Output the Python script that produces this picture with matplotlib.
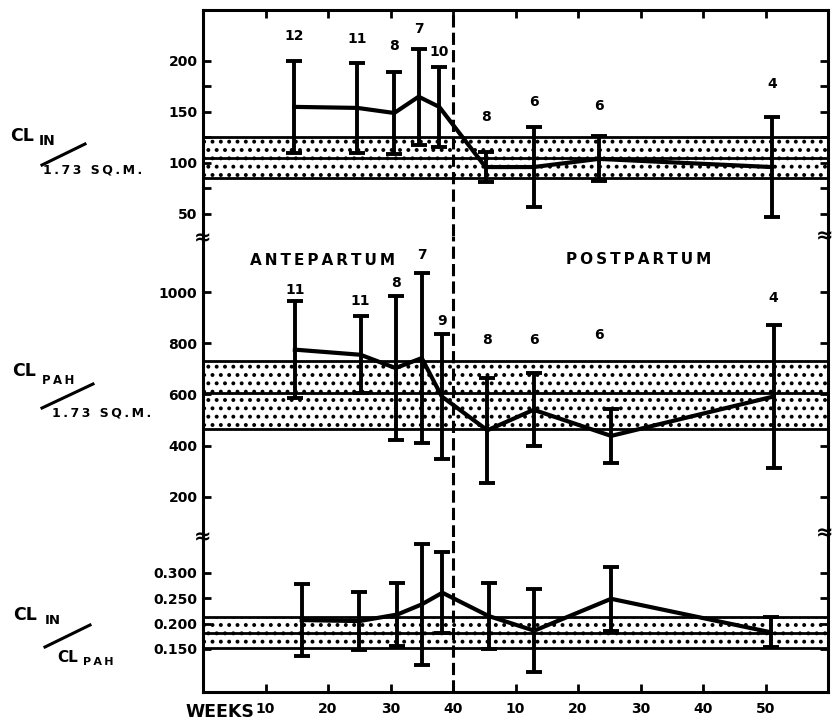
import matplotlib
matplotlib.use("Agg")
import matplotlib.pyplot as plt
from matplotlib.lines import Line2D

# weeks on one running scale: antepartum 0-40, postpartum week p -> 40 + p
weeks_in = [14.6, 24.7, 30.6, 34.5, 37.8, 45.2, 52.9, 63.3, 91.0]
weeks_pah = [14.7, 25.2, 30.8, 35.0, 38.2, 45.5, 52.9, 65.3, 91.3]
weeks_ratio = [15.8, 25.0, 31.1, 35.0, 38.3, 45.7, 53.0, 65.3, 90.8]

cl_in = [155, 154, 149, 165, 155, 96, 96, 104, 96]
cl_in_sd = [45, 44, 40, 47, 39, 15, 39, 22, 49]
n_in = ["12", "11", "8", "7", "10", "8", "6", "6", "4"]

cl_pah = [775, 755, 703, 742, 592, 460, 540, 438, 592]
cl_pah_sd = [190, 150, 280, 332, 245, 205, 143, 105, 281]
n_pah = ["11", "11", "8", "7", "9", "8", "6", "6", "4"]

ratio = [0.207, 0.205, 0.218, 0.238, 0.261, 0.215, 0.186, 0.249, 0.183]
ratio_sd = [0.071, 0.057, 0.062, 0.120, 0.080, 0.066, 0.082, 0.063, 0.030]

# normal range bands: low, middle line, high
band_in = [85, 105, 125]
band_pah = [465, 605, 730]
band_ratio = [0.152, 0.182, 0.214]

xticks = [10, 20, 30, 40, 50, 60, 70, 80, 90]
xlabels = ["10", "20", "30", "40", "10", "20", "30", "40", "50"]

# label offsets above the bar tops, in points
dy_in = [18, 17, 19, 14, 11, 25, 18, 22, 24]
dy_pah = [8, 11, 10, 13, 9, 27, 24, 53, 19]
dx_pah = [0, 0, 0, 0, 0, 0, 0, -9, 0]

plt.rcParams["font.family"] = ["DejaVu Sans"]
plt.rcParams["font.weight"] = "bold"
plt.rcParams["hatch.linewidth"] = 1.6

W, H = 835, 726
fig = plt.figure(figsize=(W / 100, H / 100), dpi=100)
gs = fig.add_gridspec(3, 1, height_ratios=[226, 301, 155], hspace=0,
                      left=203 / W, right=828 / W, top=1 - 10 / H, bottom=1 - 692 / H)
ax1 = fig.add_subplot(gs[0])
ax2 = fig.add_subplot(gs[1], sharex=ax1)
ax3 = fig.add_subplot(gs[2], sharex=ax1)


def fx(p):
    return p / W


def fy(p):
    return 1 - p / H


def spaced(s):
    return "\u2009".join(s)


def panel(ax, x, y, sd, band):
    lo, mid, hi = band
    ax.fill_between([0, 100], lo, hi, facecolor="white", edgecolor="black",
                    hatch="..", linewidth=0, zorder=1)
    for v in band:
        ax.axhline(v, color="black", lw=2.0, zorder=2)
    ax.axvline(40, color="black", lw=2.2, linestyle=(0, (4, 1.7)), zorder=3)
    ax.errorbar(x, y, yerr=sd, fmt="none", ecolor="black", elinewidth=2.8,
                capsize=5.5, capthick=2.8, zorder=4)
    ax.plot(x, y, color="black", lw=3, solid_joinstyle="miter", zorder=5)
    ax.set_xlim(0, 100)
    for s in ax.spines.values():
        s.set_linewidth(2.2)
    ax.tick_params(direction="in", length=5.5, width=2, labelsize=10,
                   left=True, right=True, labelright=False, top=False, bottom=False,
                   labelbottom=False, pad=4)


panel(ax1, weeks_in, cl_in, cl_in_sd, band_in)
panel(ax2, weeks_pah, cl_pah, cl_pah_sd, band_pah)
panel(ax3, weeks_ratio, ratio, ratio_sd, band_ratio)

ax1.set_ylim(28.4, 250)
ax1.set_yticks([50, 75, 100, 125, 150, 175, 200])
ax1.set_yticklabels(["50", "", "100", "", "150", "", "200"])
ax1.spines["bottom"].set_visible(False)
ax1.set_xticks(xticks)
ax1.tick_params(axis="x", top=True, labeltop=False)

ax2.set_ylim(43, 1219)
ax2.set_yticks([200, 400, 600, 800, 1000])
ax2.spines["top"].set_visible(False)
ax2.spines["bottom"].set_visible(False)

ax3.set_ylim(0.065, 0.371)
ax3.set_yticks([0.15, 0.20, 0.25, 0.30])
ax3.set_yticklabels(["0.150", "0.200", "0.250", "0.300"])
ax3.spines["top"].set_visible(False)
ax3.set_xticks(xticks)
ax3.set_xticklabels(xlabels)
ax3.tick_params(axis="x", bottom=True, labelbottom=True, pad=7, labelsize=10)

# counts above each bar
for xi, yi, si, n, dy in zip(weeks_in, cl_in, cl_in_sd, n_in, dy_in):
    ax1.annotate(n, (xi, yi + si), xytext=(0, dy), textcoords="offset points",
                 ha="center", va="center", fontsize=10)
for xi, yi, si, n, dy, dx in zip(weeks_pah, cl_pah, cl_pah_sd, n_pah, dy_pah, dx_pah):
    ax2.annotate(n, (xi, yi + si), xytext=(dx, dy), textcoords="offset points",
                 ha="center", va="center", fontsize=10)

fig.text(fx(250), fy(260), spaced("ANTEPARTUM"), fontsize=11, ha="left", va="center")
fig.text(fx(566), fy(259), spaced("POSTPARTUM"), fontsize=11, ha="left", va="center")
fig.text(fx(185), fy(712), "WEEKS", fontsize=12.5, ha="left", va="center")

# axis labels on the left
fig.text(fx(10), fy(136), "CL", fontsize=12.5, ha="left", va="center")
fig.text(fx(39), fy(141), "IN", fontsize=10, ha="left", va="center")
fig.add_artist(Line2D([fx(42), fx(85)], [fy(165), fy(144)], color="black", lw=2.2))
fig.text(fx(43), fy(170), spaced("1.73 SQ.M."), fontsize=9, ha="left", va="center")

fig.text(fx(12), fy(371), "CL", fontsize=12.5, ha="left", va="center")
fig.text(fx(42), fy(381), spaced("PAH"), fontsize=8.5, ha="left", va="center")
fig.add_artist(Line2D([fx(42), fx(93)], [fy(408), fy(384)], color="black", lw=2.2))
fig.text(fx(52), fy(413), spaced("1.73 SQ.M."), fontsize=9, ha="left", va="center")

fig.text(fx(13), fy(615), "CL", fontsize=12.5, ha="left", va="center")
fig.text(fx(45), fy(621), "IN", fontsize=9.5, ha="left", va="center")
fig.add_artist(Line2D([fx(45), fx(90)], [fy(647), fy(625)], color="black", lw=2.2))
fig.text(fx(57), fy(657), "CL", fontsize=11, ha="left", va="center")
fig.text(fx(83), fy(662), spaced("PAH"), fontsize=8, ha="left", va="center")

# axis break marks
for bx, by in [(203, 238), (825, 236), (203, 537), (825, 533)]:
    fig.text(fx(bx), fy(by), "\u2248", fontsize=15, ha="center", va="center")

fig.savefig("out.png", dpi=100, facecolor="white")
